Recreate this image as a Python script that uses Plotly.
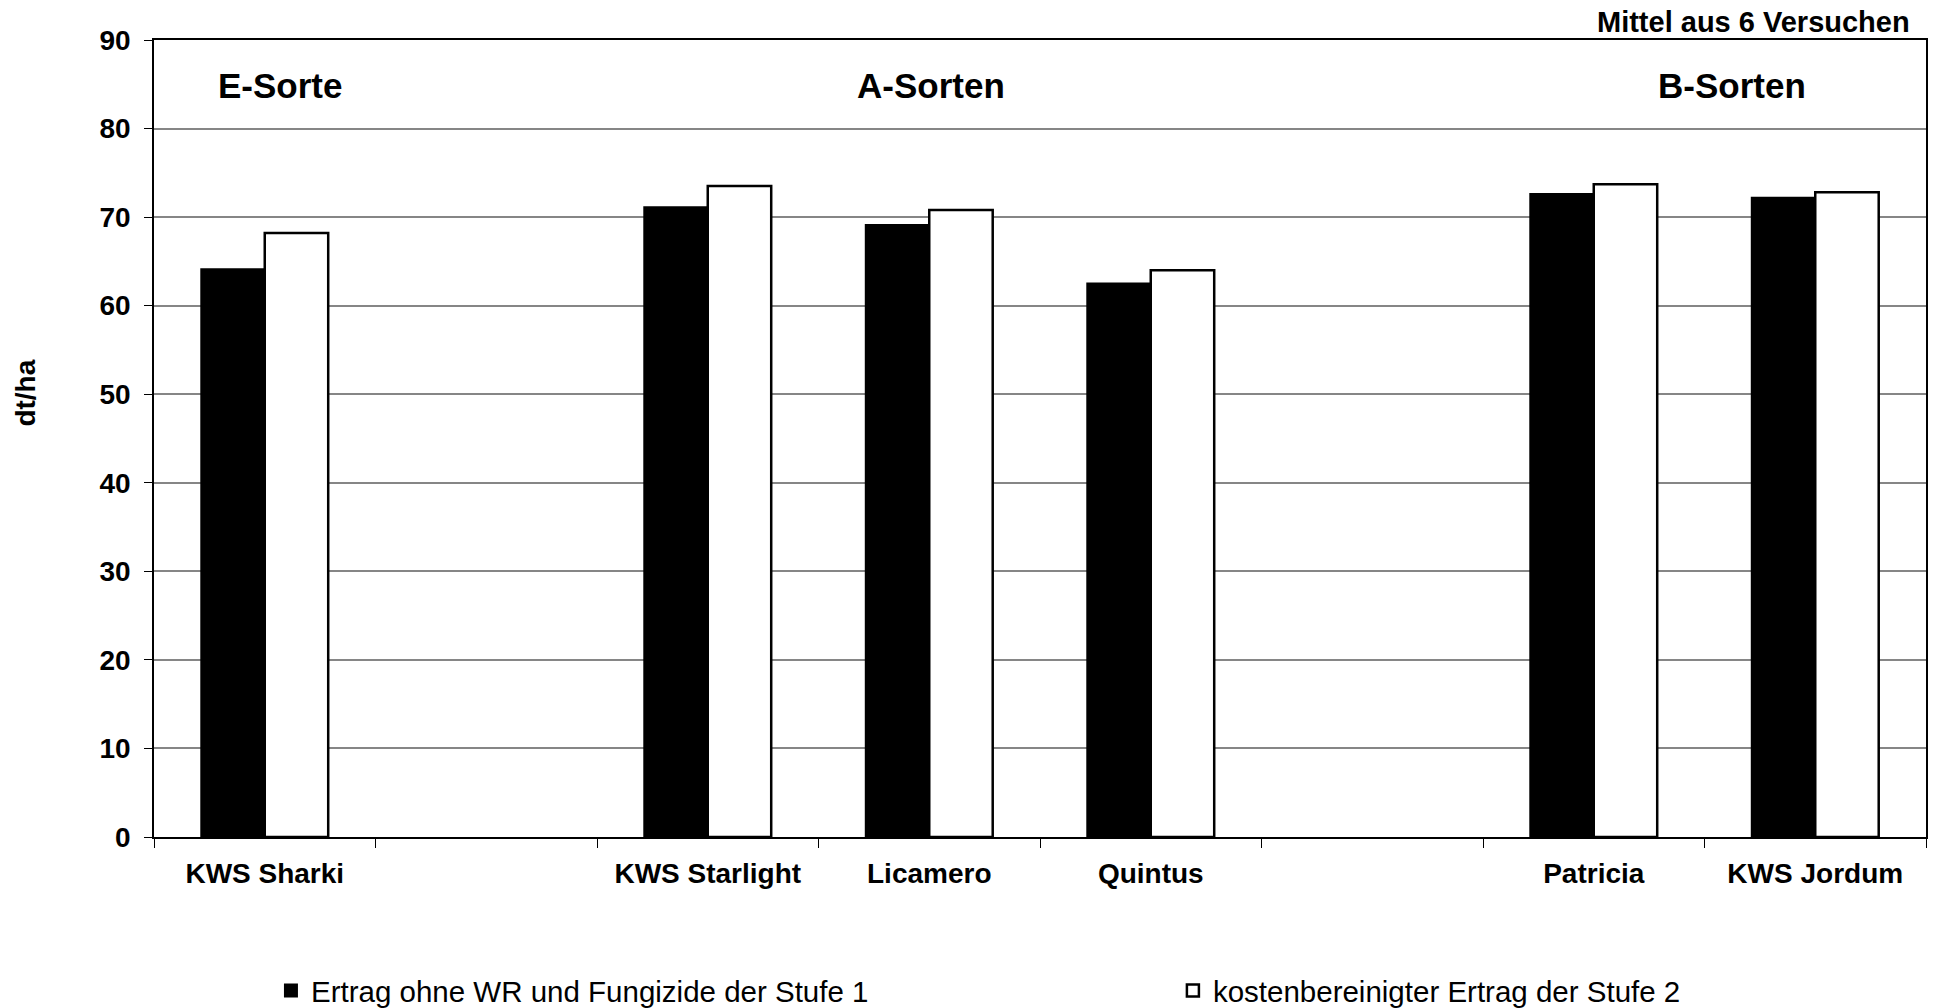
import plotly.graph_objects as go

categories = ["KWS Sharki", " ", "KWS Starlight", "Licamero", "Quintus", "  ", "Patricia", "KWS Jordum"]
stufe1 = [64.1, None, 71.1, 69.1, 62.5, None, 72.6, 72.2]
stufe2 = [68.2, None, 73.5, 70.8, 64.0, None, 73.7, 72.8]
series_names = ["Ertrag ohne WR und Fungizide der Stufe 1", "kostenbereinigter Ertrag der Stufe 2"]
group_labels = ["E-Sorte", "A-Sorten", "B-Sorten"]
group_pos = [0.0711, 0.4385, 0.8908]
y_ticks = [0, 10, 20, 30, 40, 50, 60, 70, 80, 90]

FONT = "Arial, 'Liberation Sans', sans-serif"

fig = go.Figure()
fig.add_trace(go.Bar(x=categories, y=stufe1, name=series_names[0], legend="legend",
                     marker=dict(color="black", line=dict(color="black", width=2))))
fig.add_trace(go.Bar(x=categories, y=stufe2, name=series_names[1], legend="legend2",
                     marker=dict(color="white", line=dict(color="black", width=2.5))))

annotations = []
for lab, xp in zip(group_labels, group_pos):
    annotations.append(dict(text=lab, x=xp, xref="paper", y=84.85, yref="y",
                            showarrow=False, xanchor="center", yanchor="middle",
                            font=dict(family=FONT, size=35, color="black", weight="bold")))
annotations.append(dict(text="Mittel aus 6 Versuchen", x=0.9921, xref="paper", y=1.0226, yref="paper",
                        showarrow=False, xanchor="right", yanchor="middle",
                        font=dict(family=FONT, size=29, color="black", weight="bold")))
annotations.append(dict(text="dt/ha", x=-0.0725, xref="paper", y=0.557, yref="paper",
                        showarrow=False, xanchor="center", yanchor="middle", textangle=-90,
                        font=dict(family=FONT, size=28, color="black", weight="bold")))

legend_common = dict(orientation="h", y=-0.193, yanchor="middle",
                     font=dict(family=FONT, size=29.5, color="black"),
                     bgcolor="rgba(0,0,0,0)")

fig.update_layout(
    width=1938, height=1008,
    margin=dict(l=154, r=12, t=40, b=171, pad=0, autoexpand=False),
    paper_bgcolor="white", plot_bgcolor="white",
    barmode="group", bargap=0.427, bargroupgap=0,
    font=dict(family=FONT, color="black"),
    showlegend=True,
    legend=dict(x=0.0660, xanchor="left", **legend_common),
    legend2=dict(x=0.5750, xanchor="left", **legend_common),
    annotations=annotations,
)
fig.update_xaxes(
    type="category", categoryorder="array", categoryarray=categories,
    range=[-0.5, 7.5], tickson="boundaries", automargin=False,
    ticks="outside", ticklen=9, tickcolor="black", tickwidth=1.3,
    showline=True, linecolor="black", linewidth=1.5, mirror=True,
    showgrid=False, zeroline=False,
    tickfont=dict(family=FONT, size=28, color="black", weight="bold"),
    ticklabelstandoff=11,
)
fig.update_yaxes(
    range=[0, 90], tickvals=y_ticks, ticks="outside", ticklen=8, tickcolor="black", tickwidth=1.3,
    showline=True, linecolor="black", linewidth=1.5, mirror=True, automargin=False,
    showgrid=True, gridcolor="#868686", gridwidth=1.5, zeroline=False,
    tickfont=dict(family=FONT, size=28, color="black", weight="bold"),
    ticklabelstandoff=8,
)

fig.write_html("out.html")
